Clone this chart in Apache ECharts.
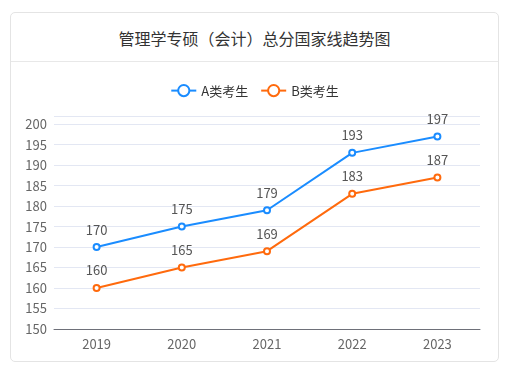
<!DOCTYPE html>
<html>
<head>
<meta charset="utf-8">
<script src="https://cdn.jsdelivr.net/npm/echarts@6/dist/echarts.min.js"></script>
<style>
    body { margin: 0; background: #fff; font-family: "Noto Sans CJK SC", sans-serif; }
    .card {
        position: absolute; left: 10px; top: 12px; width: 487px; height: 348px;
        border: 1px solid #e4e4e4; border-radius: 5px; background: #fff;
    }
    .card-head {
        height: 48px; line-height: 50px; text-align: center;
        font-size: 16px; color: #333; border-bottom: 1px solid #e8e8e8;
    }
    #chart { width: 487px; height: 299px; }
</style>
</head>
<body>
<div class="card">
    <div class="card-head">管理学专硕（会计）总分国家线趋势图</div>
    <div id="chart"></div>
</div>
<script>
// 年份
var years = ['2019', '2020', '2021', '2022', '2023'];
// 分数线
var scoreA = [170, 175, 179, 193, 197];
var scoreB = [160, 165, 169, 183, 187];
var seriesNames = ['A类考生', 'B类考生'];
var colors = ['#1a8cff', '#ff6a0d'];

var chart = echarts.init(document.getElementById('chart'));

function makeSeries(name, data) {
    return {
        name: name,
        type: 'line',
        data: data,
        symbol: 'emptyCircle',
        symbolSize: 6,
        lineStyle: { width: 2 },
        label: {
            show: true,
            position: 'top',
            distance: 7,
            color: '#555',
            fontSize: 13
        }
    };
}

var option = {
    color: colors,
    textStyle: { fontFamily: 'Noto Sans CJK SC' },
    legend: {
        data: seriesNames,
        top: 17,
        itemWidth: 25,
        itemHeight: 14,
        itemGap: 12,
        textStyle: { color: '#333', fontSize: 13 }
    },
    grid: {
        left: 43,
        right: 18,
        top: 54,
        bottom: 32
    },
    xAxis: {
        type: 'category',
        data: years,
        axisLine: { lineStyle: { color: '#6e7079' } },
        axisTick: { lineStyle: { color: '#6e7079' } },
        axisLabel: { color: '#666', fontSize: 13, margin: 9 }
    },
    yAxis: {
        type: 'value',
        min: 150,
        max: 202,
        interval: 5,
        axisLine: { show: false },
        axisTick: { show: false },
        axisLabel: {
            color: '#666',
            fontSize: 13,
            margin: 7,
            formatter: function (v) { return v % 5 === 0 ? v : ''; }
        },
        splitLine: { lineStyle: { color: '#e3e7f3' } }
    },
    series: [
        makeSeries(seriesNames[0], scoreA),
        makeSeries(seriesNames[1], scoreB)
    ]
};

chart.setOption(option);
</script>
</body>
</html>
